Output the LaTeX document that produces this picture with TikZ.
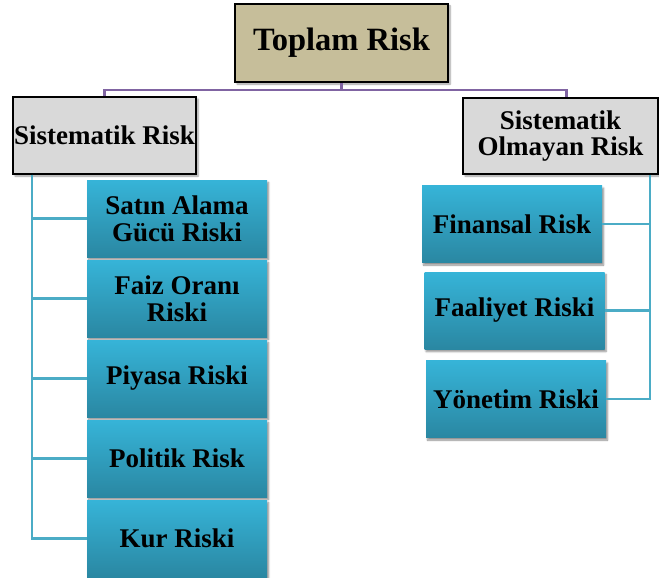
\documentclass[tikz,border=0pt]{standalone}
\usepackage{fontspec}
\setmainfont{Liberation Serif}
\usetikzlibrary{shadows.blur}
\definecolor{tealtop}{HTML}{36B4D8}
\definecolor{tealbot}{HTML}{2A87A2}
\definecolor{tealline}{HTML}{4BACC6}
\definecolor{purpline}{HTML}{8064A2}
\definecolor{tanfill}{HTML}{C6BE9A}
\definecolor{grayfill}{HTML}{D9D9D9}
\tikzset{
  x=1pt,y=-1pt,
  base/.style={inner sep=0pt, align=center, text=black,
    font=\bfseries\fontsize{27}{27}\selectfont},
  topbox/.style={base, draw=black, line width=1.8pt, fill=tanfill,
    minimum width=213pt, minimum height=78pt,
    font=\bfseries\fontsize{32.5}{33}\selectfont,
    blur shadow={shadow xshift=2pt, shadow yshift=-2pt, shadow blur steps=6, shadow opacity=40}},
  graybox/.style={base, draw=black, line width=1.8pt, fill=grayfill,
    minimum height=77pt,
    blur shadow={shadow xshift=2pt, shadow yshift=-2pt, shadow blur steps=6, shadow opacity=40}},
  tealbox/.style={base, top color=tealtop, bottom color=tealbot, draw=none,
    minimum width=180pt, minimum height=77pt,
    blur shadow={shadow xshift=1.5pt, shadow yshift=-2.5pt, shadow blur steps=6, shadow opacity=45}},
  tline/.style={draw=tealline, line width=2.2pt},
  pline/.style={draw=purpline, line width=2.2pt},
}
\begin{document}
\begin{tikzpicture}
\useasboundingbox (0,0) rectangle (659,578);
\node[topbox] (top) at (341.5,43) {Toplam Risk};
\node[graybox, minimum width=183pt] (sis) at (104.5,135.5) {Sistematik Risk};
\node[graybox, minimum width=195pt, minimum height=76pt,
      font=\bfseries\fontsize{27}{25.5}\selectfont] (som) at (560.5,136) {Sistematik\\Olmayan Risk};

\node[tealbox] (s1) at (177,218.5) {Satın Alama\\Gücü Riski};
\node[tealbox] (s2) at (177,298.5) {Faiz Oranı\\Riski};
\node[tealbox] (s3) at (177,378.5) {Piyasa Riski};
\node[tealbox] (s4) at (177,458.5) {Politik Risk};
\node[tealbox] (s5) at (177,538.5) {Kur Riski};

\node[tealbox] (r1) at (512,224) {Finansal Risk};
\node[tealbox] (r2) at (514.5,310.5) {Faaliyet Riski};
\node[tealbox] (r3) at (516,399) {Yönetim Riski};

\draw[pline] (top.south) -- ++(0,7) coordinate (j);
\draw[pline] (j) -| (sis.north);
\draw[pline] (j) -| ([xshift=6pt]som.north);

\foreach \n in {s1,s2,s3,s4,s5}
  \draw[tline] ([xshift=20pt]sis.south west) |- (\n.west);
\foreach \n in {r1,r2,r3}
  \draw[tline] ([xshift=-9pt]som.south east) |- (\n.east);
\end{tikzpicture}
\end{document}
